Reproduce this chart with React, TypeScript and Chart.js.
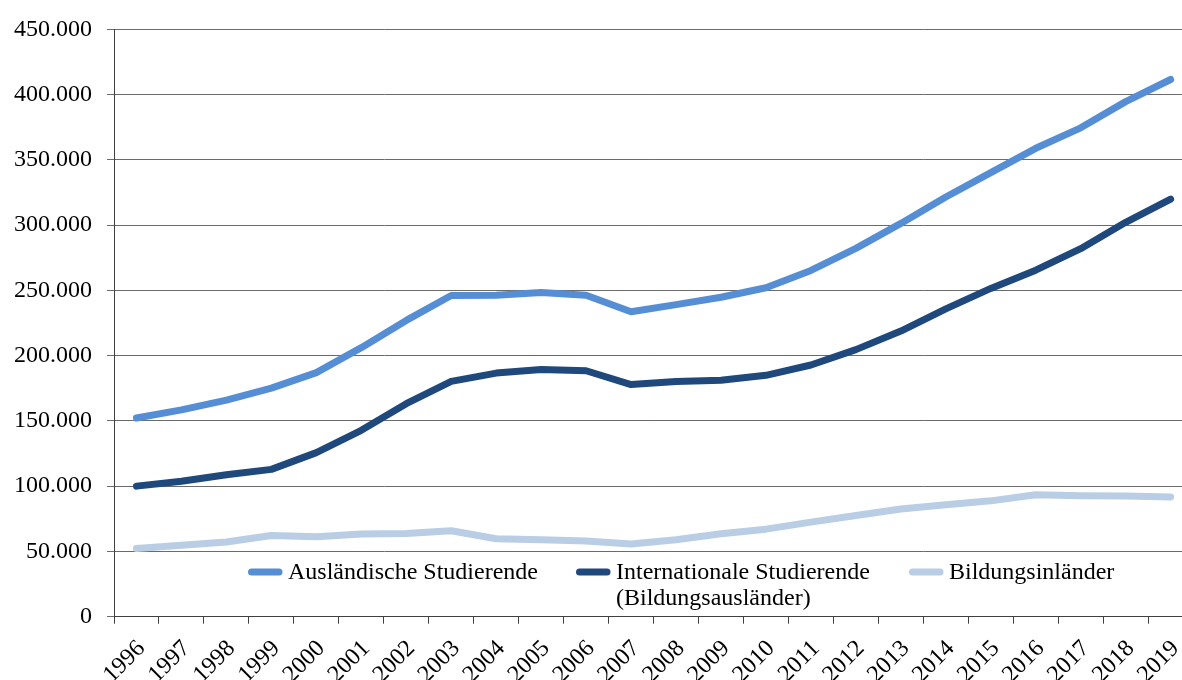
import { useEffect, useRef } from "react";
import { Chart, registerables } from "chart.js";

Chart.register(...registerables);

const years = [
  "1996", "1997", "1998", "1999", "2000", "2001", "2002", "2003", "2004", "2005", "2006", "2007",
  "2008", "2009", "2010", "2011", "2012", "2013", "2014", "2015", "2016", "2017", "2018", "2019",
];

const auslaendische = [
  152206, 158474, 165994, 175140, 187027, 206141, 227026, 246136, 246334, 248357, 246369, 233606,
  239143, 244775, 252032, 265292, 282201, 301350, 321569, 340305, 358895, 374583, 394665, 411601,
];

const international = [
  100033, 103716, 108785, 112883, 125714, 142786, 163213, 180306, 186656, 189450, 188436, 177852,
  180222, 181249, 184960, 192853, 204644, 218848, 235858, 251542, 265484, 282002, 302157, 319902,
];

const bildungsinlaender = [
  52173, 54758, 57209, 62257, 61313, 63355, 63813, 65830, 59678, 58907, 57933, 55754,
  58921, 63526, 67072, 72439, 77557, 82502, 85711, 88763, 93411, 92581, 92508, 91699,
];

const seriesLabels = [
  ["Ausländische Studierende"],
  ["Internationale Studierende", "(Bildungsausländer)"],
  ["Bildungsinländer"],
];
const seriesColors = ["#558ED5", "#1F497D", "#B9CDE5"];

const yMax = 450000;
const yStep = 50000;

const FONT = "'Liberation Serif', 'Times New Roman', serif";

function fmt(v: number): string {
  return String(Math.round(v)).replace(/\B(?=(\d{3})+(?!\d))/g, ".");
}

const legendPlugin = {
  id: "insideLegend",
  afterDatasetsDraw(chart: any) {
    const ctx = chart.ctx as CanvasRenderingContext2D;
    const xs = [248, 576, 909];
    const rowY = 572;
    const lineGap = 26;
    ctx.save();
    ctx.font = `24px ${FONT}`;
    ctx.fillStyle = "#000";
    ctx.textBaseline = "alphabetic";
    ctx.textAlign = "left";
    seriesLabels.forEach((lines, i) => {
      const x = xs[i];
      ctx.strokeStyle = seriesColors[i];
      ctx.lineWidth = 7;
      ctx.lineCap = "round";
      ctx.beginPath();
      ctx.moveTo(x + 3.5, rowY);
      ctx.lineTo(x + 31, rowY);
      ctx.stroke();
      lines.forEach((t, j) => {
        ctx.fillText(t, x + 40, rowY + 7 + j * lineGap);
      });
    });
    ctx.restore();
  },
};

export default function App() {
  const ref = useRef<HTMLCanvasElement>(null);

  useEffect(() => {
    if (!ref.current) return;
    const mk = (label: string, data: number[], color: string) => ({
      label,
      data,
      borderColor: color,
      backgroundColor: color,
      borderWidth: 7,
      pointRadius: 0,
      pointHoverRadius: 0,
      tension: 0,
      borderCapStyle: "round" as const,
      borderJoinStyle: "round" as const,
      fill: false,
    });
    const chart = new Chart(ref.current, {
      type: "line",
      data: {
        labels: years,
        datasets: [
          mk(seriesLabels[0].join(" "), auslaendische, seriesColors[0]),
          mk(seriesLabels[1].join(" "), international, seriesColors[1]),
          mk(seriesLabels[2].join(" "), bildungsinlaender, seriesColors[2]),
        ],
      },
      options: {
        responsive: false,
        animation: false,
        devicePixelRatio: 1,
        layout: { padding: { top: 10, left: 0, right: 0, bottom: 0 } },
        plugins: {
          legend: { display: false },
          tooltip: { enabled: false },
        },
        scales: {
          x: {
            type: "category",
            offset: true,
            grid: {
              offset: true,
              drawOnChartArea: false,
              drawTicks: true,
              tickLength: 7,
              color: "#404040",
              lineWidth: 1,
            },
            border: { display: true, color: "#404040", width: 1 },
            ticks: {
              autoSkip: false,
              minRotation: 45,
              maxRotation: 45,
              padding: 11,
              labelOffset: 5,
              color: "#000",
              font: { family: FONT, size: 24 },
            },
          },
          y: {
            min: 0,
            max: yMax,
            afterFit: (scale: any) => {
              scale.width = 114;
            },
            grid: {
              color: "#6b6b6b",
              lineWidth: 1,
              tickLength: 7,
              drawTicks: true,
            },
            border: { display: true, color: "#404040", width: 1 },
            ticks: {
              stepSize: yStep,
              padding: 15,
              color: "#000",
              font: { family: FONT, size: 24 },
              callback: (v: any) => fmt(Number(v)),
            },
          },
        },
      },
      plugins: [legendPlugin],
    });
    return () => chart.destroy();
  }, []);

  return (
    <div
      style={{
        position: "fixed",
        left: 0,
        top: 0,
        width: 1182,
        height: 680,
        overflow: "hidden",
        background: "#fff",
      }}
    >
      <canvas ref={ref} width={1202} height={700} style={{ display: "block" }} />
    </div>
  );
}
